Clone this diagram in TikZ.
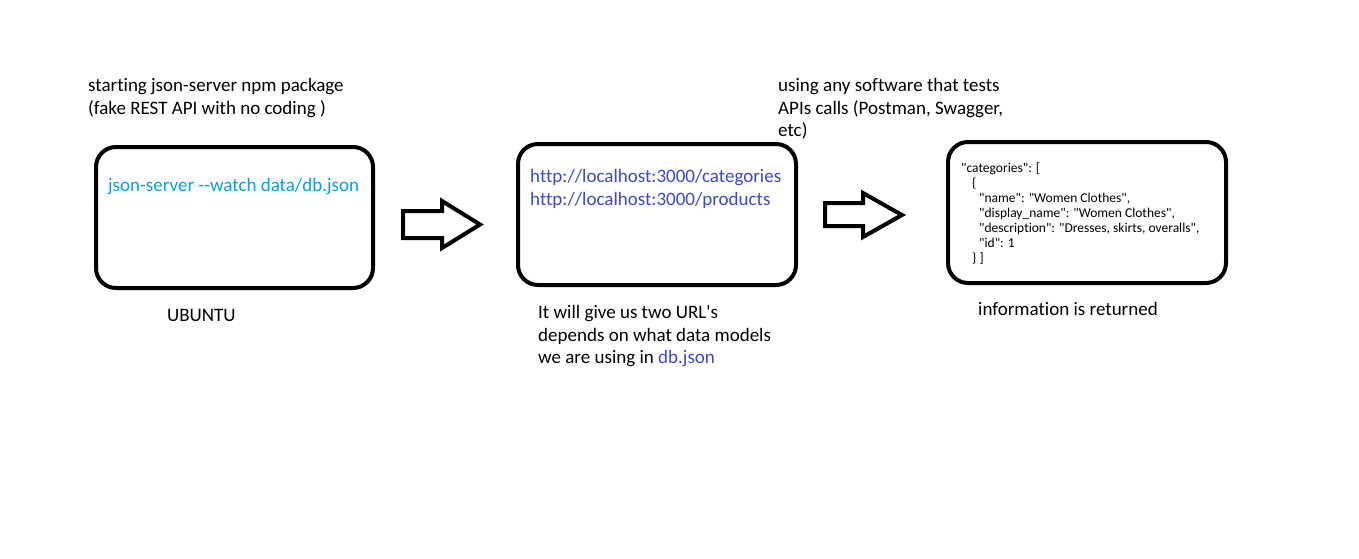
\documentclass[tikz,border=0pt]{standalone}
\usepackage{fontspec}
\setmainfont{Carlito}[Ligatures={TeXOff,CommonOff}]
\definecolor{paintblue}{HTML}{00A2E8}
\definecolor{paintindigo}{HTML}{3F48CC}
\begin{document}
\begin{tikzpicture}[x=1pt,y=-1pt,
  box/.style={draw, line width=4pt, rounded corners=20pt, inner sep=0pt},
  blockarrow/.style={draw, line width=4pt, line join=miter, fill=white},
  lbl/.style={anchor=north west, inner sep=0pt, align=left, font=\fontsize{19}{22.5}\selectfont},
  small/.style={anchor=north west, inner sep=0pt, align=left, font=\fontsize{13.5}{15}\selectfont}]
\useasboundingbox[fill=white] (0,0) rectangle (1359,559);
% boxes
\node[box, minimum width=277pt, minimum height=141pt] (b1) at (234.5,217.5) {};
\node[box, minimum width=278pt, minimum height=141pt] (b2) at (657,214.5) {};
\node[box, minimum width=278pt, minimum height=141pt] (b3) at (1087,212.5) {};
% block arrows
\draw[blockarrow] (403,211) -- (442,211) -- (442,201) -- (480,224.5) -- (442,248) -- (442,238) -- (403,238) -- cycle;
\draw[blockarrow] (825,203) -- (863,203) -- (863,193) -- (902,215) -- (863,237) -- (863,226) -- (825,226) -- cycle;
% texts
\node[lbl] (t1) at (88,75.7) {\strut starting json-server npm package\\(fake REST API with no coding )};
\node[lbl, text=paintblue] (cmd) at (108,175.7) {\strut json-server -{}-watch data/db.json};
\node[lbl] (ubuntu) at (167,305.4) {\strut UBUNTU};
\node[lbl, text=paintindigo] (urls) at (530,166.7) {\strut http://localhost:3000/categories\\http://localhost:3000/products};
\node[lbl] (t2) at (538,302.9) {\strut It will give us two URL's\\depends on what data models\\we are using in \textcolor{paintindigo}{db.json}};
\node[lbl] (t3) at (778,75.7) {\strut using any software that tests\\APIs calls (Postman, Swagger,\\etc)};
\node[small] (json) at (961,162) {\strut "categories": [\\
\hspace*{11pt}\{\\
\hspace*{18pt}"name": "Women Clothes",\\
\hspace*{18pt}"display\_name": "Women Clothes",\\
\hspace*{18pt}"description": "Dresses, skirts, overalls",\\
\hspace*{18pt}"id": 1\\
\hspace*{11pt}\} ]};
\node[lbl] (info) at (978,299.7) {\strut information is returned};
\end{tikzpicture}
\end{document}
